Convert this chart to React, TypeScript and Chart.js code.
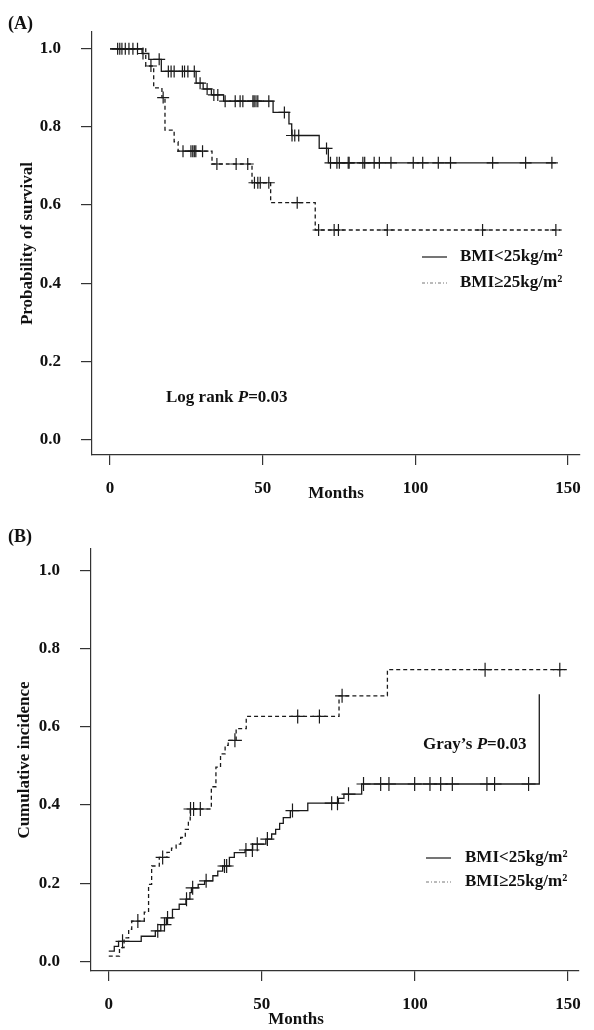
import React, { useEffect, useRef } from "react";
import { Chart, registerables } from "chart.js";

Chart.register(...registerables);

const FONT = '"Liberation Serif", "Times New Roman", Times, serif';
const INK = "#1a1a1a";

// ---------- Panel A: Kaplan–Meier survival ----------
const aSolidTime = [0, 10.5, 12.7, 16.8, 28.2, 30.5, 33.2, 37.2, 53.4, 58.6, 59.5, 68.5, 71.5, 146];
const aSolidSurv = [1.0, 0.988, 0.973, 0.942, 0.912, 0.897, 0.882, 0.866, 0.837, 0.808, 0.778, 0.745, 0.708, 0.708];
const aSolidCensor = [2.5, 3.2, 3.9, 5.0, 6.2, 7.5, 9.0, 10.8, 16.1, 19.1, 20.0, 21.0, 23.7, 24.4, 25.5, 27.6, 29.5, 31.8, 34.0, 35.3, 37.7, 41.0, 42.6, 43.5, 46.8, 47.2, 47.8, 48.4, 52.0, 57.1, 59.6, 60.5, 61.8, 70.9, 72.2, 74.3, 75.1, 78.0, 78.3, 82.8, 83.4, 86.5, 88.2, 92.0, 99.3, 102.4, 107.5, 111.5, 125.3, 136.1, 144.7];

const aDashTime = [0, 11.7, 14.3, 17.0, 18.0, 21.0, 22.3, 33.4, 46.5, 52.6, 67.2, 147.5];
const aDashSurv = [1.0, 0.956, 0.9, 0.875, 0.792, 0.762, 0.738, 0.705, 0.657, 0.606, 0.536, 0.536];
const aDashCensor = [13.4, 17.4, 23.9, 26.5, 27.1, 27.6, 28.1, 30.3, 35.0, 41.3, 45.1, 47.3, 48.4, 49.2, 52.0, 61.3, 68.3, 73.4, 74.8, 90.8, 122, 146];

// ---------- Panel B: cumulative incidence ----------
const bSolidTime = [0, 1.8, 3.2, 10.6, 15.2, 17.0, 18.8, 20.8, 23.0, 25.2, 26.5, 27.0, 29.2, 31.3, 34.0, 35.6, 37.2, 39.4, 41.0, 44.5, 47.0, 51.3, 53.2, 54.5, 55.8, 57.0, 59.3, 65.0, 75.0, 76.8, 82.6, 140.6];
const bSolidVal = [0.026, 0.038, 0.051, 0.064, 0.078, 0.094, 0.111, 0.133, 0.146, 0.159, 0.176, 0.188, 0.197, 0.206, 0.219, 0.231, 0.244, 0.266, 0.278, 0.285, 0.3, 0.313, 0.326, 0.338, 0.353, 0.368, 0.386, 0.405, 0.417, 0.428, 0.454, 0.684];
const bSolidCensor = [4.5, 16.0, 18.2, 19.2, 25.4, 27.4, 31.8, 37.8, 38.5, 44.8, 46.9, 48.5, 51.8, 60.0, 72.8, 74.7, 78.3, 83.2, 88.8, 91.5, 99.9, 104.9, 108.4, 112.2, 123.5, 126.0, 137.1];

const bDashTime = [0, 3.5, 5.0, 6.5, 7.5, 11.6, 13.0, 14.0, 16.5, 19.0, 20.5, 22.0, 23.5, 25.0, 26.0, 26.6, 33.5, 35.0, 36.5, 38.0, 39.0, 41.6, 44.9, 75.2, 91.0, 148.9];
const bDashVal = [0.013, 0.035, 0.06, 0.082, 0.103, 0.126, 0.197, 0.244, 0.266, 0.279, 0.29, 0.3, 0.317, 0.338, 0.36, 0.39, 0.447, 0.497, 0.531, 0.553, 0.566, 0.596, 0.627, 0.68, 0.747, 0.747];
const bDashCensor = [9.5, 17.6, 26.7, 27.7, 29.9, 41.2, 61.7, 68.8, 76.2, 122.9, 147.3];

const xTicks = [0, 50, 100, 150];
const xTickLabels = ["0", "50", "100", "150"];
const yTicks = [0, 0.2, 0.4, 0.6, 0.8, 1.0];
const yTickLabels = ["0.0", "0.2", "0.4", "0.6", "0.8", "1.0"];
const legendLabels = ["BMI<25kg/m\u00B2", "BMI\u226525kg/m\u00B2"];
const xTitle = "Months";

function stepAt(times: number[], vals: number[], t: number) {
  let v = vals[0];
  for (let i = 0; i < times.length; i++) if (times[i] <= t) v = vals[i];
  return v;
}

type PanelCfg = {
  tag: string;
  tagY: number;
  yTitle: string;
  yTitlePad: number;
  xTitleX: number;
  xTitleY: number;
  xMin: number;
  xMax: number;
  yMin: number;
  yMax: number;
  leftW: number;
  xH: number;
  padTop: number;
  padRight: number;
  solid: [number[], number[], number[]];
  dash: [number[], number[], number[]];
  crossR: number;
  legX: number;
  legTextX: number;
  legY: [number, number];
  annot: [string, string, string];
  annotX: number;
  annotY: number;
};

const W = 594;
const H = 515;

const panelA: PanelCfg = {
  tag: "(A)", tagY: 24, yTitle: "Probability of survival", yTitlePad: 17, xTitleX: 336, xTitleY: 494,
  xMin: -5.9, xMax: 153.9, yMin: -0.04, yMax: 1.043, leftW: 92, xH: 60, padTop: 32, padRight: 4,
  solid: [aSolidTime, aSolidSurv, aSolidCensor], dash: [aDashTime, aDashSurv, aDashCensor], crossR: 6,
  legX: 422, legTextX: 460, legY: [257, 283],
  annot: ["Log rank ", "P", "=0.03"], annotX: 166, annotY: 398,
};

const panelB: PanelCfg = {
  tag: "(B)", tagY: 22, yTitle: "Cumulative incidence", yTitlePad: 14, xTitleX: 296, xTitleY: 505,
  xMin: -5.8, xMax: 153.5, yMin: -0.025, yMax: 1.056, leftW: 91, xH: 59, padTop: 34, padRight: 8,
  solid: [bSolidTime, bSolidVal, bSolidCensor], dash: [bDashTime, bDashVal, bDashCensor], crossR: 7,
  legX: 426, legTextX: 465, legY: [343, 367],
  annot: ["Gray\u2019s ", "P", "=0.03"], annotX: 423, annotY: 230,
};

function makeChart(canvas: HTMLCanvasElement, p: PanelCfg) {
  const bold = (size: number) => ({ family: FONT, size, weight: "bold" as const });
  const lineDs = (series: [number[], number[], number[]], dashed: boolean) => ({
    type: "line" as const,
    data: series[0].map((t, i) => ({ x: t, y: series[1][i] })),
    stepped: true,
    borderColor: INK,
    borderWidth: 1.3,
    borderDash: dashed ? [4, 3] : [],
    pointRadius: 0,
    fill: false,
  });
  const censorDs = (series: [number[], number[], number[]]) => ({
    type: "line" as const,
    showLine: false,
    data: series[2].map((t) => ({ x: t, y: stepAt(series[0], series[1], t) })),
    pointStyle: "cross" as const,
    pointRadius: p.crossR,
    pointBorderColor: INK,
    pointBorderWidth: 1.2,
    borderColor: INK,
    backgroundColor: INK,
  });

  const textPlugin = {
    id: "panelText",
    afterDraw(chart: any) {
      const ctx: CanvasRenderingContext2D = chart.ctx;
      ctx.save();
      ctx.fillStyle = "#111";
      ctx.textBaseline = "middle";
      ctx.textAlign = "left";
      ctx.font = `bold 18px ${FONT}`;
      ctx.fillText(p.tag, 8, p.tagY);

      // x-axis title
      ctx.font = `bold 17px ${FONT}`;
      ctx.textAlign = "center";
      ctx.fillText(xTitle, p.xTitleX, p.xTitleY);
      ctx.textAlign = "left";

      // legend
      legendLabels.forEach((lab, i) => {
        const y = p.legY[i];
        ctx.beginPath();
        ctx.lineWidth = i === 0 ? 1.2 : 1;
        ctx.strokeStyle = i === 0 ? INK : "#777";
        ctx.setLineDash(i === 0 ? [] : [3, 2, 1, 2]);
        ctx.moveTo(p.legX, y);
        ctx.lineTo(p.legX + 25, y);
        ctx.stroke();
        ctx.setLineDash([]);
        ctx.fillText(lab, p.legTextX, y);
      });

      // annotation with italic P
      let x = p.annotX;
      ctx.font = `bold 17px ${FONT}`;
      ctx.fillText(p.annot[0], x, p.annotY);
      x += ctx.measureText(p.annot[0]).width;
      ctx.font = `italic bold 17px ${FONT}`;
      ctx.fillText(p.annot[1], x, p.annotY);
      x += ctx.measureText(p.annot[1]).width;
      ctx.font = `bold 17px ${FONT}`;
      ctx.fillText(p.annot[2], x, p.annotY);
      ctx.restore();
    },
  };

  return new Chart(canvas, {
    type: "line",
    data: {
      datasets: [lineDs(p.solid, false), lineDs(p.dash, true), censorDs(p.solid), censorDs(p.dash)] as any,
    },
    options: {
      responsive: false,
      animation: false,
      devicePixelRatio: 1,
      layout: { padding: { top: p.padTop, right: p.padRight, left: 0, bottom: 0 } },
      plugins: { legend: { display: false }, tooltip: { enabled: false }, title: { display: false } },
      scales: {
        x: {
          type: "linear",
          min: p.xMin,
          max: p.xMax,
          afterBuildTicks: (s: any) => {
            s.ticks = xTicks.map((v) => ({ value: v }));
          },
          afterFit: (s: any) => {
            s.height = p.xH;
          },
          ticks: {
            callback: (_v: any, i: number) => xTickLabels[i],
            font: bold(17),
            color: "#111",
            padding: 13,
            maxRotation: 0,
            autoSkip: false,
          },
          grid: { drawOnChartArea: false, drawTicks: true, tickLength: 10, color: "#333", lineWidth: 1.2 },
          border: { display: true, color: "#333", width: 1.2 },
          title: { display: false },
        },
        y: {
          type: "linear",
          min: p.yMin,
          max: p.yMax,
          afterBuildTicks: (s: any) => {
            s.ticks = yTicks.map((v) => ({ value: v }));
          },
          afterFit: (s: any) => {
            s.width = p.leftW;
          },
          ticks: {
            callback: (_v: any, i: number) => yTickLabels[i],
            font: bold(17),
            color: "#111",
            padding: 20,
            autoSkip: false,
          },
          grid: { drawOnChartArea: false, drawTicks: true, tickLength: 11, color: "#333", lineWidth: 1.2 },
          border: { display: true, color: "#333", width: 1.2 },
          title: { display: true, text: p.yTitle, font: bold(17), color: "#111", padding: { top: p.yTitlePad, bottom: 0 } },
        },
      },
    } as any,
    plugins: [textPlugin],
  });
}

function Panel({ cfg, top }: { cfg: PanelCfg; top: number }) {
  const ref = useRef<HTMLCanvasElement | null>(null);
  useEffect(() => {
    if (!ref.current) return;
    const chart = makeChart(ref.current, cfg);
    return () => chart.destroy();
  }, [cfg]);
  return (
    <canvas
      ref={ref}
      width={W}
      height={H}
      style={{ position: "absolute", left: 0, top, width: W, height: H, display: "block" }}
    />
  );
}

export default function App() {
  return (
    <div style={{ position: "absolute", left: 0, top: 0, width: W, height: 2 * H, background: "#fff" }}>
      <Panel cfg={panelA} top={0} />
      <Panel cfg={panelB} top={H} />
    </div>
  );
}
